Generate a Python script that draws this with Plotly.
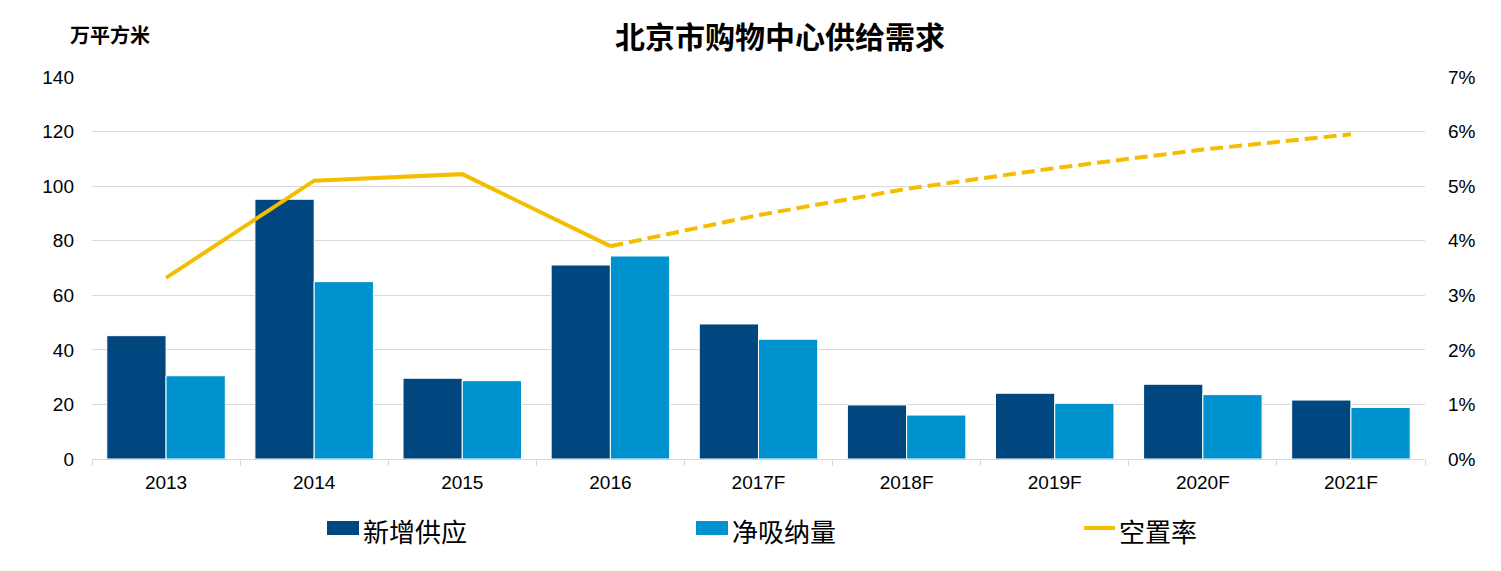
import plotly.graph_objects as go

categories = ["2013", "2014", "2015", "2016", "2017F", "2018F", "2019F", "2020F", "2021F"]
new_supply = [45.2, 95.2, 29.6, 71.1, 49.5, 19.8, 24.1, 27.4, 21.6]
net_absorption = [30.5, 65.0, 28.7, 74.4, 43.9, 16.1, 20.4, 23.6, 18.9]
vacancy_actual_cats = ["2013", "2014", "2015", "2016"]
vacancy_actual = [0.0332, 0.0510, 0.0522, 0.0390]
vacancy_fcst_cats = ["2016", "2017F", "2018F", "2019F", "2020F", "2021F"]
vacancy_fcst = [0.0390, 0.0447, 0.0495, 0.0533, 0.0567, 0.0595]

left_ticks = [0, 20, 40, 60, 80, 100, 120, 140]
right_ticks = [0, 0.01, 0.02, 0.03, 0.04, 0.05, 0.06, 0.07]

DARK = "#00467F"
LIGHT = "#0092CF"
YELLOW = "#F5BD00"
GRID = "#D9D9D9"
FONT = "Liberation Sans, Arial, Noto Sans CJK SC"
CJK = "Noto Sans CJK SC, Liberation Sans"

OFF = 8  # default page body margin
W, H = 1501 - OFF, 571 - OFF
ML, MR, MT, MB = 92 - OFF, 76, 77 - OFF, 112
PW, PH = W - ML - MR, H - MT - MB


def px(xw):
    return (xw - OFF - ML) / PW


def py(yw):
    return (H - MB - (yw - OFF)) / PH


fig = go.Figure()
fig.add_trace(go.Bar(x=categories, y=new_supply, name="新增供应",
                     marker=dict(color=DARK, line=dict(color="white", width=1))))
fig.add_trace(go.Bar(x=categories, y=net_absorption, name="净吸纳量",
                     marker=dict(color=LIGHT, line=dict(color="white", width=1))))
fig.add_trace(go.Scatter(x=vacancy_actual_cats, y=vacancy_actual, name="空置率", mode="lines",
                         line=dict(color=YELLOW, width=4), yaxis="y2"))
fig.add_trace(go.Scatter(x=vacancy_fcst_cats, y=vacancy_fcst, name="空置率", mode="lines",
                         line=dict(color=YELLOW, width=4, dash="13px,6px"), yaxis="y2"))

# custom legend (swatches + labels)
legend_items = [
    ("rect", DARK, 327, 359, "新增供应"),
    ("rect", LIGHT, 696, 728, "净吸纳量"),
    ("line", YELLOW, 1084, 1115, "空置率"),
]
shapes = []
annotations = []
for kind, color, x0, x1, label in legend_items:
    if kind == "rect":
        shapes.append(dict(type="rect", xref="paper", yref="paper", x0=px(x0), x1=px(x1),
                           y0=py(535), y1=py(521), fillcolor=color, line=dict(width=0)))
    else:
        shapes.append(dict(type="line", xref="paper", yref="paper", x0=px(x0), x1=px(x1),
                           y0=py(528), y1=py(528), line=dict(color=color, width=4)))
    annotations.append(dict(text=label, xref="paper", yref="paper", x=px(x1 + 2), xanchor="left",
                            y=py(530), yanchor="middle", showarrow=False,
                            font=dict(family=CJK, size=26, color="#000000")))

annotations.append(dict(text="<b>万平方米</b>", xref="paper", yref="paper", x=px(68), xanchor="left",
                        y=py(35), yanchor="middle", showarrow=False,
                        font=dict(family=CJK, size=20, color="#000000")))

fig.update_layout(
    width=W, height=H,
    margin=dict(l=ML, r=MR, t=MT, b=MB, autoexpand=False),
    plot_bgcolor="white", paper_bgcolor="white",
    font=dict(family=FONT, size=19, color="#000000"),
    barmode="group", bargap=0.2, bargroupgap=0.0,
    showlegend=False,
    title=dict(text="<b>北京市购物中心供给需求</b>", x=(780 - OFF) / W, xanchor="center",
               y=1 - (37 - OFF) / H, yanchor="middle",
               font=dict(family=CJK, size=30, color="#000000")),
    xaxis=dict(type="category", categoryorder="array", categoryarray=categories,
               showline=True, linecolor=GRID, linewidth=1, ticks="outside", tickson="boundaries",
               ticklen=6, tickcolor=GRID, showgrid=False, tickfont=dict(size=19),
               ticklabelstandoff=6),
    yaxis=dict(range=[0, 140], tickvals=left_ticks, showgrid=True, gridcolor=GRID, gridwidth=1,
               zeroline=False, ticks="", ticklabelstandoff=17, tickfont=dict(size=19)),
    yaxis2=dict(range=[0, 0.07], tickvals=right_ticks, tickformat=".0%", overlaying="y", side="right",
                showgrid=False, zeroline=False, ticks="", ticklabelstandoff=22, tickfont=dict(size=19)),
    shapes=shapes,
    annotations=annotations,
)

fig.write_html("out.html")
